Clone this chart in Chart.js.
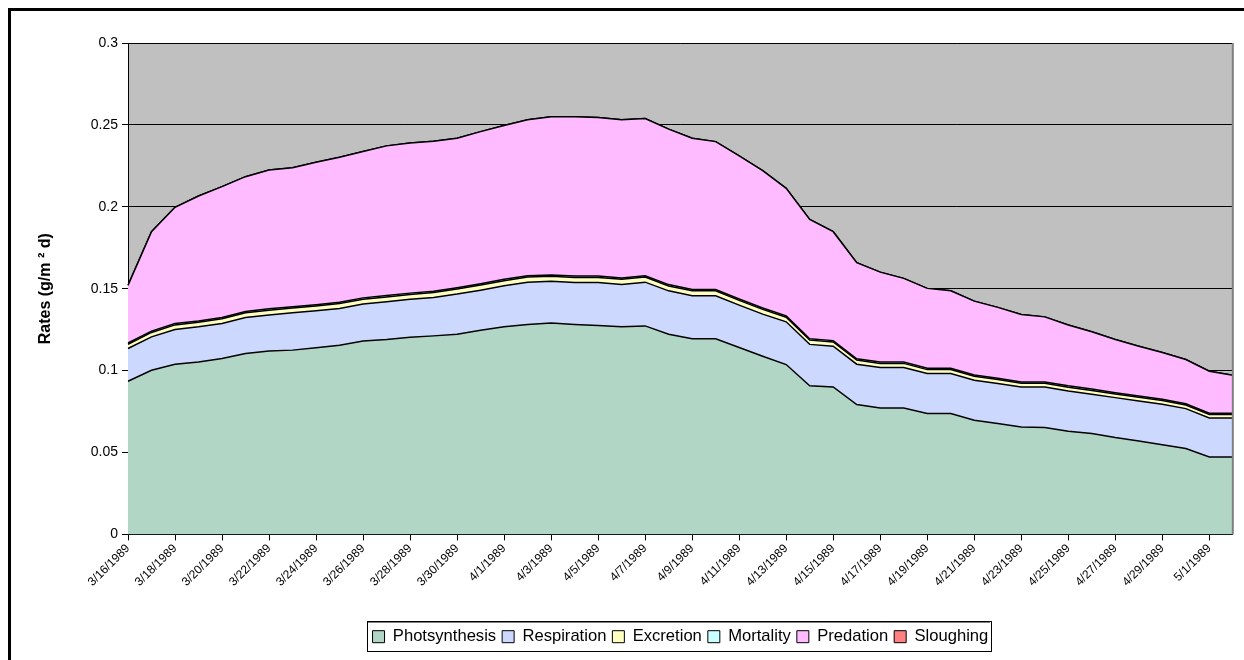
<!DOCTYPE html>
<html>
<head>
<meta charset="utf-8">
<script src="https://cdn.jsdelivr.net/npm/chart.js@4"></script>
<style>
  html, body { margin: 0; padding: 0; background: #fff; overflow: hidden; }
  #frame { position: absolute; left: 8px; top: 8px; width: 1260px; height: 680px; border: 3px solid #000; }
  #wrap { position: absolute; left: 0; top: 0; width: 1244px; height: 660px; }
</style>
</head>
<body>
<div id="frame"></div>
<div id="wrap"><canvas id="myChart" width="1244" height="660"></canvas></div>
<script>
const dates = [
  '3/16/1989', '3/17/1989', '3/18/1989', '3/19/1989', '3/20/1989', '3/21/1989', '3/22/1989', '3/23/1989',
  '3/24/1989', '3/25/1989', '3/26/1989', '3/27/1989', '3/28/1989', '3/29/1989', '3/30/1989', '3/31/1989',
  '4/1/1989', '4/2/1989', '4/3/1989', '4/4/1989', '4/5/1989', '4/6/1989', '4/7/1989', '4/8/1989',
  '4/9/1989', '4/10/1989', '4/11/1989', '4/12/1989', '4/13/1989', '4/14/1989', '4/15/1989', '4/16/1989',
  '4/17/1989', '4/18/1989', '4/19/1989', '4/20/1989', '4/21/1989', '4/22/1989', '4/23/1989', '4/24/1989',
  '4/25/1989', '4/26/1989', '4/27/1989', '4/28/1989', '4/29/1989', '4/30/1989', '5/1/1989', '5/2/1989'
];

const photosynthesis = [
  0.0935, 0.1002, 0.1039, 0.1053, 0.1074, 0.1104, 0.1119, 0.1125, 0.1139, 0.1155, 0.1180, 0.1190,
  0.1204, 0.1212, 0.1222, 0.1247, 0.1267, 0.1282, 0.1290, 0.1282, 0.1276, 0.1267, 0.1273, 0.1222,
  0.1194, 0.1194, 0.1141, 0.1088, 0.1037, 0.0907, 0.0900, 0.0793, 0.0772, 0.0772, 0.0738, 0.0738,
  0.0697, 0.0677, 0.0656, 0.0652, 0.0630, 0.0616, 0.0591, 0.0570, 0.0547, 0.0524, 0.0473, 0.0473
];
const respiration = [
  0.0200, 0.0204, 0.0212, 0.0214, 0.0214, 0.0220, 0.0221, 0.0228, 0.0226, 0.0224, 0.0226, 0.0230,
  0.0231, 0.0235, 0.0245, 0.0244, 0.0251, 0.0258, 0.0255, 0.0256, 0.0262, 0.0259, 0.0267, 0.0265,
  0.0263, 0.0263, 0.0259, 0.0257, 0.0261, 0.0253, 0.0249, 0.0246, 0.0247, 0.0247, 0.0244, 0.0244,
  0.0244, 0.0244, 0.0244, 0.0248, 0.0246, 0.0240, 0.0244, 0.0245, 0.0248, 0.0244, 0.0238, 0.0238
];
const excretion = [
  0.0026, 0.0027, 0.0028, 0.0028, 0.0028, 0.0029, 0.0029, 0.0029, 0.0029, 0.0030, 0.0030, 0.0030,
  0.0030, 0.0030, 0.0031, 0.0031, 0.0031, 0.0031, 0.0031, 0.0031, 0.0031, 0.0031, 0.0031, 0.0030,
  0.0030, 0.0030, 0.0029, 0.0029, 0.0028, 0.0026, 0.0026, 0.0025, 0.0025, 0.0025, 0.0024, 0.0024,
  0.0024, 0.0024, 0.0023, 0.0023, 0.0023, 0.0023, 0.0022, 0.0022, 0.0022, 0.0022, 0.0021, 0.0021
];
const mortality = [
  0.0008, 0.0008, 0.0008, 0.0008, 0.0008, 0.0008, 0.0008, 0.0008, 0.0008, 0.0008, 0.0008, 0.0008,
  0.0008, 0.0008, 0.0008, 0.0008, 0.0008, 0.0008, 0.0008, 0.0008, 0.0008, 0.0008, 0.0008, 0.0008,
  0.0008, 0.0008, 0.0008, 0.0008, 0.0008, 0.0008, 0.0008, 0.0008, 0.0008, 0.0008, 0.0008, 0.0008,
  0.0008, 0.0008, 0.0008, 0.0008, 0.0008, 0.0008, 0.0008, 0.0008, 0.0008, 0.0008, 0.0008, 0.0008
];
const predation = [
  0.0351, 0.0607, 0.0710, 0.0763, 0.0799, 0.0823, 0.0848, 0.0849, 0.0870, 0.0885, 0.0893, 0.0914,
  0.0917, 0.0915, 0.0913, 0.0929, 0.0939, 0.0952, 0.0965, 0.0972, 0.0968, 0.0966, 0.0960, 0.0949,
  0.0924, 0.0903, 0.0874, 0.0839, 0.0779, 0.0729, 0.0665, 0.0587, 0.0549, 0.0511, 0.0488, 0.0473,
  0.0451, 0.0433, 0.0412, 0.0397, 0.0371, 0.0350, 0.0325, 0.0304, 0.0286, 0.0270, 0.0256, 0.0232
];
const sloughing = [
  0, 0, 0, 0, 0, 0, 0, 0, 0, 0, 0, 0, 0, 0, 0, 0, 0, 0, 0, 0, 0, 0, 0, 0,
  0, 0, 0, 0, 0, 0, 0, 0, 0, 0, 0, 0, 0, 0, 0, 0, 0, 0, 0, 0, 0, 0, 0, 0
];

const seriesNames = ['Photsynthesis', 'Respiration', 'Excretion', 'Mortality', 'Predation', 'Sloughing'];
const seriesData = [photosynthesis, respiration, excretion, mortality, predation, sloughing];
const fills = ['#b2d6c5', '#ccd8fe', '#ffffc0', '#ccffff', '#ffbbff', '#ff8080'];

const FONT = 'Arial, "Liberation Sans", sans-serif';

const datasets = seriesNames.map((name, i) => ({
  label: name,
  data: seriesData[i],
  backgroundColor: fills[i],
  borderColor: '#000',
  borderWidth: 1.5,
  pointRadius: 0,
  tension: 0,
  fill: i === 0 ? 'origin' : '-1'
}));

const plotBackground = {
  id: 'plotBackground',
  beforeDraw(chart) {
    const {ctx, chartArea: a} = chart;
    ctx.save();
    ctx.fillStyle = '#c0c0c0';
    ctx.fillRect(a.left, a.top, a.right - a.left, a.bottom - a.top);
    ctx.restore();
  },
  afterDatasetsDraw(chart) {
    const {ctx, chartArea: a} = chart;
    ctx.save();
    ctx.strokeStyle = '#808080';
    ctx.lineWidth = 2;
    ctx.beginPath();
    ctx.moveTo(a.right, a.top);
    ctx.lineTo(a.right, a.bottom);
    ctx.stroke();
    ctx.restore();
  }
};

// excel style frame round the legend
const legendBox = {
  id: 'legendBox',
  afterDraw(chart) {
    const boxes = chart.legend.legendHitBoxes;
    if (!boxes || !boxes.length) return;
    const left = Math.min(...boxes.map(b => b.left)) - 6;
    const right = Math.max(...boxes.map(b => b.left + b.width)) + 2;
    const top = Math.min(...boxes.map(b => b.top)) - 7;
    const bottom = Math.max(...boxes.map(b => b.top + b.height)) + 6;
    const ctx = chart.ctx;
    ctx.save();
    ctx.strokeStyle = '#000';
    ctx.lineWidth = 1;
    ctx.strokeRect(Math.round(left) + 0.5, Math.round(top) + 0.5, Math.round(right - left), Math.round(bottom - top));
    ctx.strokeStyle = '#808080';
    ctx.beginPath();
    ctx.moveTo(Math.round(left) + 1, Math.round(top) + 1.5);
    ctx.lineTo(Math.round(right), Math.round(top) + 1.5);
    ctx.stroke();
    ctx.restore();
  }
};

new Chart(document.getElementById('myChart'), {
  type: 'line',
  data: { labels: dates, datasets: datasets },
  options: {
    responsive: false,
    animation: false,
    events: [],
    layout: { padding: { left: 8, top: 43, right: 10, bottom: 5 } },
    plugins: {
      legend: {
        position: 'bottom',
        fullSize: false,
        labels: {
          color: '#000',
          font: { family: FONT, size: 16.6 },
          boxWidth: 12,
          boxHeight: 12,
          padding: 6,
          generateLabels(chart) {
            return chart.data.datasets.map((ds, i) => ({
              text: ds.label,
              fillStyle: ds.backgroundColor,
              strokeStyle: '#000',
              lineWidth: 1,
              datasetIndex: i
            }));
          }
        }
      },
      tooltip: { enabled: false }
    },
    scales: {
      x: {
        offset: false,
        ticks: {
          autoSkip: false,
          maxRotation: 45,
          minRotation: 45,
          color: '#000',
          padding: 1,
          font: { family: FONT, size: 12 },
          callback(value, index) { return index % 2 === 0 ? this.getLabelForValue(value) : ''; }
        },
        grid: {
          drawOnChartArea: false,
          drawTicks: true,
          tickLength: 6,
          color: ctx => (ctx.index % 2 === 0 ? '#000' : 'rgba(0,0,0,0)')
        },
        border: { color: '#000', width: 1 },
        afterFit(scale) { scale.height = 88; }
      },
      y: {
        stacked: true,
        min: 0,
        max: 0.3,
        ticks: {
          stepSize: 0.05,
          color: '#000',
          padding: 4,
          font: { family: FONT, size: 14 },
          callback: v => String(Math.round(v * 100) / 100)
        },
        grid: { color: '#000', lineWidth: 1, tickLength: 6, drawTicks: true },
        border: { color: '#000', width: 1 },
        title: {
          display: true,
          text: 'Rates (g/m \u00B2 d)',
          color: '#000',
          font: { family: FONT, size: 16, weight: 'bold' },
          padding: { top: 28, bottom: 0 }
        },
        afterFit(scale) { scale.width = 120; }
      }
    }
  },
  plugins: [plotBackground, legendBox]
});
</script>
</body>
</html>
